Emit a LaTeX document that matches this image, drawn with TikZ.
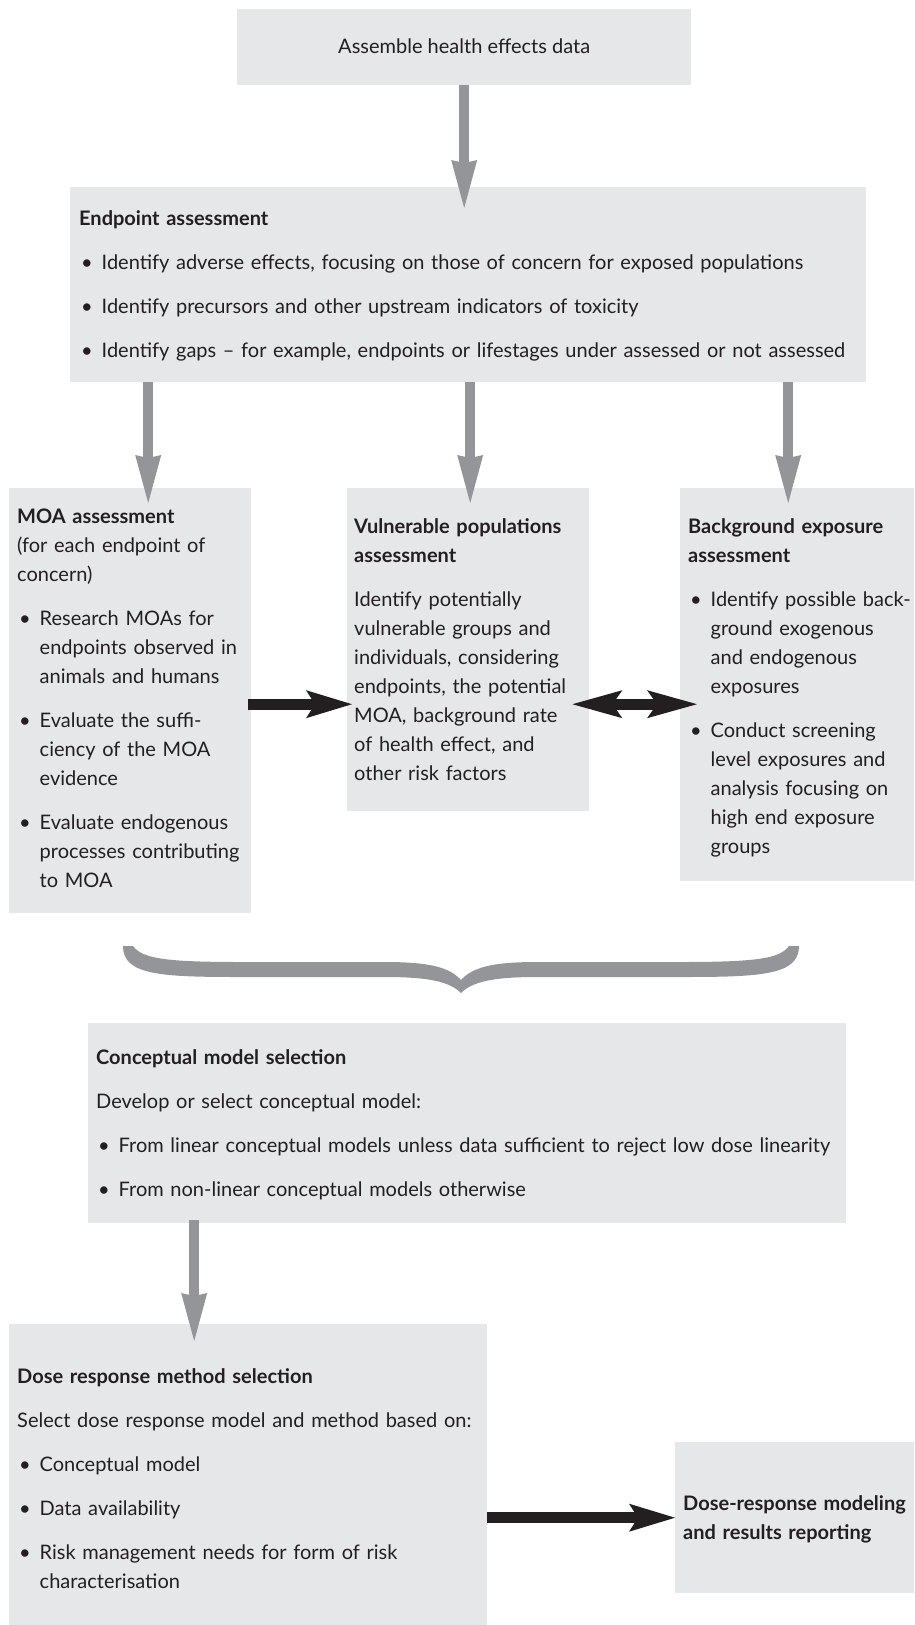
\documentclass[tikz,border=0pt]{standalone}
\usepackage{fontspec}
\setmainfont{Lato}
\usepackage{tikz}
\usetikzlibrary{arrows.meta,positioning,calc}
\definecolor{boxgray}{HTML}{E6E7E8}
\definecolor{arrowgray}{HTML}{939598}
\definecolor{ink}{HTML}{231F20}
\newcommand{\bul}{\par\let\\\newline\hangindent=22.5pt\hangafter=1\noindent\makebox[22.5pt][l]{\hspace{2pt}\textbullet}\ignorespaces}

\begin{document}
\begin{tikzpicture}[x=1pt, y=-1pt]
\tikzstyle{block}=[fill=boxgray, anchor=north west, inner sep=0pt]
\tikzstyle{txt}=[anchor=base west, inner sep=0pt, align=left, text=ink, font=\fontsize{20}{29}\selectfont, execute at begin node=\setlength{\parskip}{15pt}]
\tikzstyle{garrow}=[arrowgray, line width=10pt, -{Stealth[length=48pt, width=26pt, inset=3pt, line width=0pt]}]
\tikzstyle{barrow}=[ink, line width=11pt, -{Stealth[length=46pt, width=28pt, inset=9pt, line width=0pt]}]
\tikzstyle{dbarrow}=[ink, line width=11pt, {Stealth[length=50pt, width=28pt, inset=10pt, line width=0pt]}-{Stealth[length=50pt, width=28pt, inset=10pt, line width=0pt]}]
\useasboundingbox (0,0) rectangle (914,1625);

\node[block, minimum width=454pt, minimum height=76pt] (0) at (237,9) {};
\node[block, minimum width=796pt, minimum height=195pt] (1) at (70,187) {};
\node[block, minimum width=242pt, minimum height=425pt] (2) at (9,488) {};
\node[block, minimum width=242pt, minimum height=323pt] (3) at (347,488) {};
\node[block, minimum width=234pt, minimum height=393pt] (4) at (680,488) {};
\node[block, minimum width=758pt, minimum height=200pt] (5) at (88,1023) {};
\node[block, minimum width=478pt, minimum height=301pt] (6) at (9,1324) {};
\node[block, minimum width=239pt, minimum height=151pt] (7) at (675,1442) {};

\node[txt, anchor=base] (t0) at ([yshift=-44pt]0.north) {Assemble health effects data};
\node[txt, text width=780pt] (t1) at ([xshift=9pt, yshift=-38pt]1.north west) {\textbf{Endpoint assessment}
\bul Identify adverse effects, focusing on those of concern for exposed populations
\bul Identify precursors and other upstream indicators of toxicity
\bul Identify gaps – for example, endpoints or lifestages under assessed or not assessed\par};
\node[txt, text width=232pt] (t2) at ([xshift=8pt, yshift=-35pt]2.north west) {\textbf{MOA assessment}\\(for each endpoint of\\concern)
\bul Research MOAs for\\endpoints observed in\\animals and humans
\bul Evaluate the suffi-\\ciency of the MOA\\evidence
\bul Evaluate endogenous\\processes contributing\\to MOA\par};
\node[txt, text width=234pt] (t3) at ([xshift=7pt, yshift=-45pt]3.north west) {\textbf{Vulnerable populations\\assessment}\par
Identify potentially\\vulnerable groups and\\individuals, considering\\endpoints, the potential\\MOA, background rate\\of health effect, and\\other risk factors};
\node[txt, text width=226pt] (t4) at ([xshift=8pt, yshift=-45pt]4.north west) {\textbf{Background exposure\\assessment}
\bul Identify possible back-\\ground exogenous\\and endogenous\\exposures
\bul Conduct screening\\level exposures and\\analysis focusing on\\high end exposure\\groups\par};
\node[txt, text width=745pt] (t5) at ([xshift=8pt, yshift=-41pt]5.north west) {\textbf{Conceptual model selection}\par
Develop or select conceptual model:
\bul From linear conceptual models unless data sufficient to reject low dose linearity
\bul From non-linear conceptual models otherwise\par};
\node[txt, text width=465pt] (t6) at ([xshift=8pt, yshift=-59pt]6.north west) {\textbf{Dose response method selection}\par
Select dose response model and method based on:
\bul Conceptual model
\bul Data availability
\bul Risk management needs for form of risk\\characterisation\par};
\node[txt, text width=230pt] (t7) at ([xshift=8pt, yshift=-68pt]7.north west) {\textbf{Dose-response modeling\\and results reporting}};

\draw[garrow] (0.south) -- ($(0.south |- 1.north)+(0,21)$);
\draw[garrow] ($(2.north |- 1.south)+(18,0)$) -- ($(2.north)+(18,15)$);
\draw[garrow] ($(3.north |- 1.south)+(2,0)$) -- ($(3.north)+(2,15)$);
\draw[garrow] ($(4.north |- 1.south)+(-9,0)$) -- ($(4.north)+(-9,15)$);
\draw[barrow] ($(2.east)+(-3,3.5)$) -- ($(2.east -| 3.west)+(5,3.5)$);
\draw[dbarrow] ($(2.east -| 3.east)+(-17,3.5)$) -- ($(2.east -| 4.west)+(17,3.5)$);

% brace
\fill[arrowgray] (123,946) .. controls (123,975) and (160,977) .. (240,977) -- (385,977)
  .. controls (430,977) and (450,982) .. (461,993) .. controls (472,982) and (492,977) .. (537,977)
  -- (682,977) .. controls (762,977) and (799,975) .. (799,946) -- (789,946)
  .. controls (780,958) and (760,962) .. (682,962) -- (537,962)
  .. controls (490,962) and (472,968) .. (461,980) .. controls (450,968) and (432,962) .. (385,962)
  -- (240,962) .. controls (162,962) and (142,958) .. (133,946) -- cycle;

\draw[garrow] ($(6.north |- 5.south)+(-54,-3)$) -- ($(6.north)+(-54,17)$);
\draw[barrow] (6.east |- 7.west) -- (7.west);
\end{tikzpicture}
\end{document}
